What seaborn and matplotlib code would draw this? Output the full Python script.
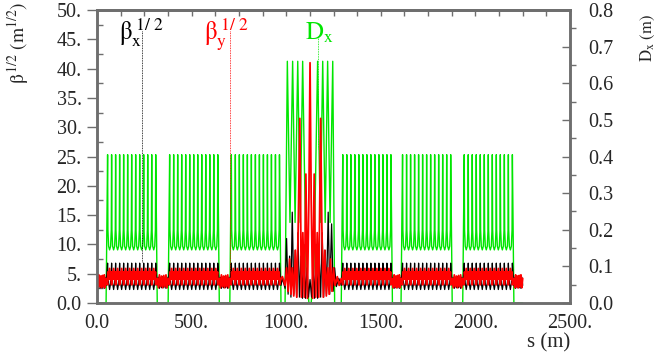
"""Lattice functions of the ring: sqrt(beta_x), sqrt(beta_y) and horizontal dispersion."""

import matplotlib

matplotlib.use("Agg")

import matplotlib.pyplot as plt
import numpy as np
import seaborn as sns
from matplotlib.ticker import FuncFormatter, MultipleLocator

# ---- data -------------------------------------------------------------------
# arcs: dispersion rises at these s positions (m)
ARC_STARTS = [48, 376, 702, 1291, 1607, 1933]
ARC_RAMP = 8.0          # m from D=0 to first dispersion peak
CELL_LEN = 21.2         # m, FODO cell length
N_CELLS = 12

# one arc cell, starting at the dispersion peak
CELL_FRAC = [0.0, 0.08, 0.25, 0.5, 0.75, 0.92]
CELL_BX = [6.8, 5.4, 3.4, 2.3, 3.4, 5.4]
CELL_BY = [3.1, 5.3, 4.0, 5.9, 4.0, 5.3]
CELL_DX = [0.405, 0.2, 0.155, 0.145, 0.155, 0.2]

# dispersion-free straights between arcs
GAP_FRAC = [0.0, 0.1, 0.2, 0.3, 0.4, 0.5, 0.6, 0.7, 0.8, 0.9, 1.0]
GAP_BX = [3.0, 4.4, 2.5, 4.2, 2.6, 4.5, 2.6, 4.2, 2.5, 4.4, 3.0]
GAP_BY = [4.2, 2.6, 4.8, 2.8, 4.6, 2.6, 4.7, 2.8, 4.8, 2.6, 4.2]
RING_END = 2250

# interaction region (972 - 1291 m)
IR_BX_S = [980, 994, 1002, 1010, 1018, 1025, 1032, 1040, 1048, 1055, 1062, 1070,
           1078, 1086, 1094, 1102, 1110, 1118, 1126, 1134, 1142, 1150, 1158, 1166,
           1174, 1182, 1190, 1198, 1206, 1213, 1222, 1230, 1240, 1248, 1256, 1265, 1278]
IR_BX = [4.2, 2.5, 11.0, 1.5, 8.0, 1.0, 15.5, 1.5, 9.0, 1.0, 12.0, 1.0,
         8.0, 0.8, 10.0, 0.8, 6.0, 1.0, 4.0, 1.0, 6.0, 0.8, 10.0, 0.8,
         8.0, 1.0, 12.0, 1.0, 9.0, 1.5, 15.5, 1.5, 13.5, 2.0, 6.0, 2.8, 4.2]
IR_BY_S = [980, 994, 1002, 1010, 1018, 1025, 1032, 1040, 1048, 1056, 1064, 1072,
           1080, 1088, 1096, 1104, 1112, 1120, 1126, 1132, 1140, 1148, 1156, 1164,
           1172, 1182, 1188, 1196, 1204, 1212, 1220, 1227, 1234, 1242, 1250, 1258,
           1270, 1280]
IR_BY = [4.5, 3.0, 6.0, 2.0, 7.5, 1.5, 6.0, 1.2, 9.0, 1.0, 14.0, 31.5,
         1.0, 12.0, 1.0, 22.0, 0.8, 18.0, 41.0, 18.0, 0.8, 22.0, 1.0, 12.0,
         1.0, 31.5, 14.0, 1.0, 9.0, 1.2, 6.0, 1.5, 7.5, 2.0, 6.0, 3.0, 4.5, 3.0]
IR_DX_S = [994, 1006, 1020, 1034, 1047, 1061, 1074, 1087, 1105, 1120, 1132, 1147,
           1166, 1180, 1193, 1206, 1219, 1232, 1246, 1256]
IR_DX = [0.0, 0.66, 0.22, 0.66, 0.22, 0.66, 0.22, 0.66, 0.1, 0.0, 0.0, 0.1,
         0.66, 0.22, 0.66, 0.22, 0.66, 0.22, 0.66, 0.0]

# label marker positions (s, top, bottom)
MARK_BX = (238, 46.5, 7.0)
MARK_BY = (703, 46.5, 5.5)
MARK_DX = (1168, 0.725, 0.42)

BLACK, RED, GREEN = "#000000", "#ff0000", "#00e600"
AXIS_GREY = "#6e6e6e"


def build_lattice():
    """Assemble the s-ordered curves from the arc cell, straights and the IR."""
    bx_s, bx, by_s, by, dx_s, dx = [], [], [], [], [], []

    def add(s, vx, vy, vd=None):
        bx_s.append(s); bx.append(vx)
        by_s.append(s); by.append(vy)
        if vd is not None:
            dx_s.append(s); dx.append(vd)

    def gap(a, b, first=False, last=False):
        lo = 0 if first else 1
        hi = len(GAP_FRAC) if last else len(GAP_FRAC) - 1
        for f, vx, vy in zip(GAP_FRAC[lo:hi], GAP_BX[lo:hi], GAP_BY[lo:hi]):
            add(a + f * (b - a), vx, vy)
        if first:
            dx_s.append(a); dx.append(0.0)
        if last:
            dx_s.append(b); dx.append(0.0)

    def arc(start):
        peak0 = start + ARC_RAMP
        add(start, GAP_BX[-1], GAP_BY[-1], 0.0)
        for k in range(N_CELLS):
            for f, vx, vy, vd in zip(CELL_FRAC, CELL_BX, CELL_BY, CELL_DX):
                add(peak0 + (k + f) * CELL_LEN, vx, vy, vd)
        s = peak0 + N_CELLS * CELL_LEN
        add(s, CELL_BX[0], CELL_BY[0], CELL_DX[0])
        add(s + ARC_RAMP, GAP_BX[0], GAP_BY[0], 0.0)
        return s + ARC_RAMP

    gap(0, ARC_STARTS[0], first=True)
    for i, start in enumerate(ARC_STARTS):
        end = arc(start)
        if i == 2:
            bx_s.extend(IR_BX_S); bx.extend(IR_BX)
            by_s.extend(IR_BY_S); by.extend(IR_BY)
            dx_s.extend(IR_DX_S); dx.extend(IR_DX)
        elif i + 1 < len(ARC_STARTS):
            gap(end, ARC_STARTS[i + 1])
        else:
            gap(end, RING_END, last=True)
    return (np.array(bx_s), np.array(bx), np.array(by_s), np.array(by),
            np.array(dx_s), np.array(dx))


sns.set_theme(style="white")
plt.rcParams["font.family"] = ["Liberation Serif", "DejaVu Serif"]
plt.rcParams["mathtext.fontset"] = "stix"

bx_s, bx, by_s, by, dx_s, dx = build_lattice()

fig = plt.figure(figsize=(6.63, 3.55), dpi=100)
ax = fig.add_axes([97 / 663, 1 - 303 / 355, 473 / 663, 293 / 355])
ax2 = ax.twinx()
ax.set_zorder(ax2.get_zorder() + 1)
ax.patch.set_visible(False)

sns.lineplot(x=dx_s, y=dx, ax=ax2, color=GREEN, linewidth=1.0,
             estimator=None, sort=False)
sns.lineplot(x=bx_s, y=bx, ax=ax, color=BLACK, linewidth=0.9,
             estimator=None, sort=False)
sns.lineplot(x=by_s, y=by, ax=ax, color=RED, linewidth=1.3,
             estimator=None, sort=False)

# label markers
ax.plot([MARK_BX[0]] * 2, MARK_BX[1:], color=BLACK, lw=0.6, ls=(0, (1, 1)))
ax.plot([MARK_BY[0]] * 2, MARK_BY[1:], color=RED, lw=0.6, ls=(0, (1, 1)))
ax2.plot([MARK_DX[0]] * 2, MARK_DX[1:], color=GREEN, lw=0.6, ls=(0, (1, 1)))
ax.text(118, 45.0, r"$\mathrm{\beta}_{\mathrm{x}}^{\ 1/\ 2}$", color=BLACK, fontsize=18)
ax.text(566, 45.0, r"$\mathrm{\beta}_{\mathrm{y}}^{\ 1/\ 2}$", color=RED, fontsize=18)
ax.text(1098, 45.0, r"$\mathrm{D}_{\mathrm{x}}$", color=GREEN, fontsize=18)

ax.set_xlim(0, 2500)
ax.set_ylim(0, 50)
ax2.set_ylim(0, 0.8)
ax.set_xlabel("")
ax.set_ylabel("")
ax2.set_ylabel("")

ax.xaxis.set_major_locator(MultipleLocator(500))
ax.xaxis.set_minor_locator(MultipleLocator(250))
ax.yaxis.set_major_locator(MultipleLocator(5))
ax.yaxis.set_minor_locator(MultipleLocator(2.5))
ax2.yaxis.set_major_locator(MultipleLocator(0.1))
ax2.yaxis.set_minor_locator(MultipleLocator(0.05))
dot_fmt = FuncFormatter(lambda v, p: "0.0" if v == 0 else f"{v:.0f}.")
ax.xaxis.set_major_formatter(dot_fmt)
ax.yaxis.set_major_formatter(dot_fmt)
ax2.yaxis.set_major_formatter(FuncFormatter(lambda v, p: f"{v:.1f}"))

LABEL_SIZE = 14.5
ax.tick_params(axis="x", which="both", direction="out", length=5, width=1,
               color=AXIS_GREY, labelsize=LABEL_SIZE, pad=3, top=False)
ax.tick_params(axis="y", which="major", direction="out", length=7, width=1,
               color=AXIS_GREY, labelsize=LABEL_SIZE, pad=4)
ax.tick_params(axis="y", which="minor", direction="in", length=4, width=1,
               color=AXIS_GREY)
ax2.tick_params(axis="y", which="major", direction="in", length=6, width=1,
                color=AXIS_GREY, labelsize=LABEL_SIZE, pad=13)
ax2.tick_params(axis="y", which="minor", direction="out", length=4, width=1,
                color=AXIS_GREY)
top = ax.secondary_xaxis("top")
top.xaxis.set_major_locator(MultipleLocator(125))
top.tick_params(direction="in", length=4, width=1, color=AXIS_GREY,
                labeltop=False)
for a in (ax, ax2, top):
    for sp in a.spines.values():
        sp.set_color(AXIS_GREY)
        sp.set_linewidth(1.8)

fig.text(18 / 663, 1 - 2 / 355, r"$\mathrm{\beta}^{\,1/2}\ (\mathrm{m}^{1/2})$",
         rotation=90, ha="center", va="top", fontsize=14)
fig.text(648 / 663, 1 - 14 / 355, r"$\mathrm{D_x\ (m)}$",
         rotation=90, ha="center", va="top", fontsize=12)
fig.text(570 / 663, 1 - 352 / 355, "s (m)", ha="right", va="bottom", fontsize=15)

fig.savefig("out.png", dpi=100)
plt.close(fig)
